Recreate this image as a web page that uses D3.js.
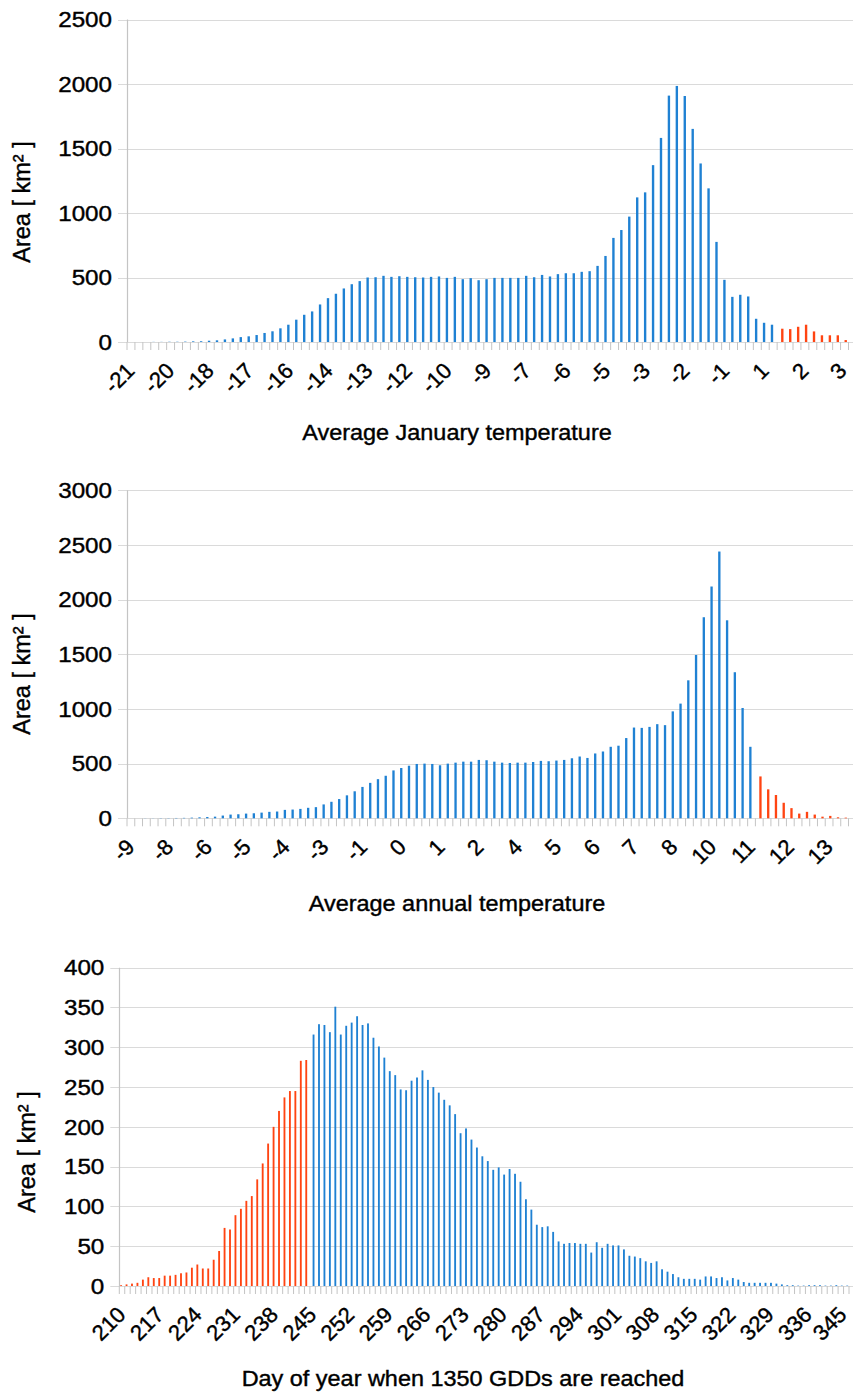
<!DOCTYPE html>
<html>
<head>
<meta charset="utf-8">
<script src="https://cdn.jsdelivr.net/npm/d3@7"></script>
<style>
  html, body { margin: 0; padding: 0; background: #ffffff; }
  svg { display: block; font-family: "Liberation Sans", Arial, sans-serif; }
  svg text { stroke: #000; stroke-width: 0.4px; }
</style>
</head>
<body>
<svg id="chart" width="853" height="1394"></svg>
<script>
// ---- Average January temperature: area per 0.27 °C bin ----
const janMain = [
  0, 0, 0, 1, 1, 2, 2, 3, 5, 6,
  10, 13, 20, 28, 38, 44, 54, 70, 83, 106,
  134, 173, 211, 237, 291, 340, 374, 415, 448, 472,
  500, 502, 513, 505, 510, 505, 502, 500, 505, 508,
  497, 505, 487, 495, 479, 487, 497, 497, 497, 497,
  513, 502, 520, 508, 526, 533, 533, 544, 549, 590,
  667, 807, 868, 972, 1121, 1160, 1371, 1582, 1910, 1985,
  1907, 1652, 1384, 1191, 776, 482, 350, 366, 353, 180,
  149, 134
];
const janWarm = [103, 100, 118, 134, 82, 52, 52, 52, 15];
const janTicks = ["-21", "-20", "-18", "-17", "-16", "-14", "-13", "-12", "-10", "-9",
                  "-7", "-6", "-5", "-3", "-2", "-1", "1", "2", "3"];
const janYTicks = [0, 500, 1000, 1500, 2000, 2500];

// ---- Average annual temperature: area per 0.25 °C bin ----
const annMain = [
  0, 0, 1, 1, 2, 2, 3, 4, 6, 9,
  12, 15, 25, 34, 37, 43, 46, 52, 59, 62,
  77, 80, 86, 96, 102, 127, 151, 176, 210, 247,
  287, 324, 358, 389, 438, 460, 481, 497, 500, 497,
  485, 500, 509, 518, 518, 534, 531, 518, 509, 506,
  509, 509, 515, 525, 522, 528, 534, 549, 565, 552,
  593, 611, 654, 664, 734, 830, 827, 836, 861, 852,
  978, 1049, 1262, 1494, 1839, 2120, 2440, 1811, 1336, 1009,
  654
];
const annWarm = [383, 265, 213, 142, 93, 43, 59, 34, 15, 22, 9, 6];
const annTicks = ["-9", "-8", "-6", "-5", "-4", "-3", "-1", "0", "1", "2",
                  "4", "5", "6", "7", "8", "10", "11", "12", "13"];
const annYTicks = [0, 500, 1000, 1500, 2000, 2500, 3000];

// ---- Day of year when 1350 growing degree days are reached ----
const gddEarly = [
  1, 2, 3, 4, 8, 11, 10, 10, 13, 13,
  14, 16, 17, 23, 27, 22, 22, 33, 44, 73,
  71, 89, 97, 107, 113, 134, 154, 179, 200, 220,
  237, 245, 245, 283, 284
];
const gddMain = [
  316, 329, 328, 319, 351, 316, 327, 331, 339, 328,
  330, 312, 301, 287, 270, 265, 247, 246, 258, 262,
  271, 259, 250, 243, 234, 227, 216, 192, 198, 184,
  174, 163, 157, 146, 149, 140, 147, 141, 131, 109,
  96, 77, 74, 75, 68, 56, 53, 54, 54, 53,
  53, 42, 55, 48, 53, 51, 51, 46, 38, 37,
  35, 31, 29, 31, 21, 18, 15, 11, 9, 9,
  9, 8, 12, 12, 10, 11, 7, 10, 8, 5,
  4, 4, 4, 4, 4, 3, 2, 1, 1, 0.5,
  0.5, 1, 1, 1, 0.5, 0.5, 1, 0.5, 0.5
];
const gddTicks = ["210", "217", "224", "231", "238", "245", "252", "259", "266", "273",
                  "280", "287", "294", "301", "308", "315", "322", "329", "336", "345"];
const gddYTicks = [0, 50, 100, 150, 200, 250, 300, 350, 400];

// ---- styling ----
const BLUE = "#1f81d3";
const RED = "#ff4412";
const GRID = "#dadada";
const AXIS = "#c4c4c4";
const FONT = 22;
const WIDTH_RIGHT = 853;

const svg = d3.select("#chart");

function label(g, x, y, text, opts) {
  const o = Object.assign({ anchor: "middle", rotate: 0, size: FONT, dy: "0.35em", stretch: 1.1 }, opts || {});
  return g.append("text")
    .attr("transform", `translate(${x},${y}) scale(${o.stretch},1) rotate(${o.rotate})`)
    .attr("text-anchor", o.anchor)
    .attr("dy", o.dy)
    .attr("font-size", o.size)
    .attr("fill", "#000")
    .text(text);
}

function drawPanel(cfg) {
  const g = svg.append("g");

  // bars of every series share one category band; the series sit side by side inside it
  const nCats = d3.max(cfg.series, s => s.start + s.values.length);
  const x = d3.scaleBand()
    .domain(d3.range(nCats))
    .range([cfg.left, cfg.right])
    .paddingInner(cfg.gap)
    .paddingOuter(cfg.gap / 2);
  const inner = d3.scaleBand()
    .domain(cfg.series.map(s => s.name))
    .range([0, x.bandwidth()]);
  const y = d3.scaleLinear().domain([0, d3.max(cfg.yTicks)]).range([cfg.bottom, cfg.top]);

  // horizontal grid + outward y ticks
  g.append("g").selectAll("line").data(cfg.yTicks).join("line")
    .attr("x1", cfg.left - 9).attr("x2", WIDTH_RIGHT)
    .attr("y1", d => Math.round(y(d)) + 0.5).attr("y2", d => Math.round(y(d)) + 0.5)
    .attr("stroke", GRID).attr("stroke-width", 1.2);

  // y axis line
  g.append("line")
    .attr("x1", Math.round(cfg.left) + 0.5).attr("x2", Math.round(cfg.left) + 0.5)
    .attr("y1", cfg.top).attr("y2", cfg.bottom)
    .attr("stroke", AXIS).attr("stroke-width", 1.2);

  // category boundary ticks under the baseline
  const step = x.step();
  g.append("g").selectAll("line").data(d3.range(nCats + 1)).join("line")
    .attr("x1", i => cfg.left + i * step).attr("x2", i => cfg.left + i * step)
    .attr("y1", cfg.bottom).attr("y2", cfg.bottom + 8)
    .attr("stroke", AXIS).attr("stroke-width", 1);

  // bars
  cfg.series.forEach(s => {
    g.append("g").selectAll("rect").data(s.values).join("rect")
      .attr("x", (d, i) => x(s.start + i) + inner(s.name))
      .attr("width", inner.bandwidth())
      .attr("y", d => y(d))
      .attr("height", d => cfg.bottom - y(d))
      .attr("fill", s.color);
  });

  // y tick labels
  cfg.yTicks.forEach(t => label(g, cfg.left - 15, y(t), String(t), { anchor: "end" }));

  // rotated category labels, one every `every` categories (kept inside the right edge)
  cfg.xTicks.forEach((t, k) => {
    const idx = k * cfg.every;
    const cx = x(idx) + x.bandwidth() / 2;
    label(g, Math.min(cx + 5, WIDTH_RIGHT - 5), cfg.bottom + 30, t,
          { anchor: "end", rotate: -45, dy: "0", stretch: 1 });
  });

  // axis titles
  label(g, cfg.xTitlePos[0], cfg.xTitlePos[1], cfg.xTitle, { dy: "0", stretch: 1.065 });
  label(g, cfg.yTitlePos[0], cfg.yTitlePos[1], "Area [ km² ]", { rotate: -90, stretch: 1, size: 23.5 });
}

drawPanel({
  left: 127, right: 848.5, top: 19.5, bottom: 342,
  gap: 0.4, every: 5,
  yTicks: janYTicks, xTicks: janTicks,
  series: [
    { name: "main", values: janMain, start: 0, color: BLUE },
    { name: "warm", values: janWarm, start: janMain.length, color: RED }
  ],
  xTitle: "Average January temperature", xTitlePos: [457, 440],
  yTitlePos: [22, 202]
});

drawPanel({
  left: 127, right: 848.5, top: 490.3, bottom: 818.3,
  gap: 0.4, every: 5,
  yTicks: annYTicks, xTicks: annTicks,
  series: [
    { name: "main", values: annMain, start: 0, color: BLUE },
    { name: "warm", values: annWarm, start: annMain.length, color: RED }
  ],
  xTitle: "Average annual temperature", xTitlePos: [457, 911],
  yTitlePos: [22, 674]
});

drawPanel({
  left: 119.3, right: 849, top: 967.7, bottom: 1286,
  gap: 0.32, every: 7,
  yTicks: gddYTicks, xTicks: gddTicks,
  series: [
    { name: "early", values: gddEarly, start: 0, color: RED },
    { name: "main", values: gddMain, start: gddEarly.length, color: BLUE }
  ],
  xTitle: "Day of year when 1350 GDDs are reached", xTitlePos: [463, 1386],
  yTitlePos: [27, 1152]
});
</script>
</body>
</html>
